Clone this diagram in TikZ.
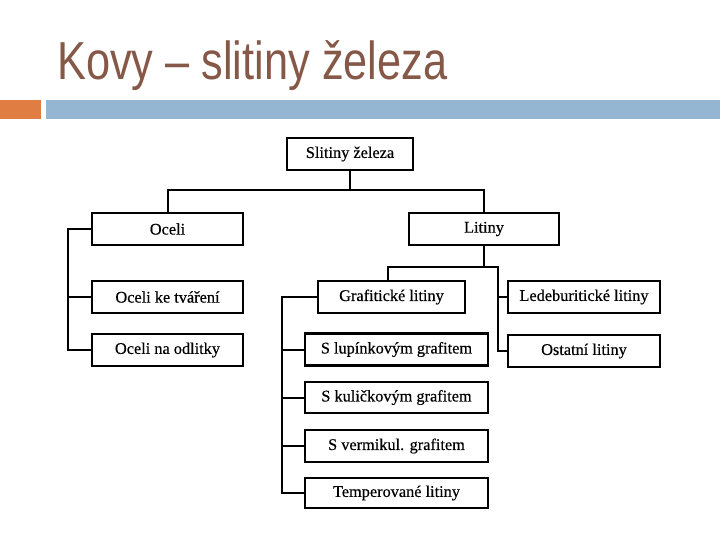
\documentclass[tikz,border=0pt]{standalone}
\usepackage{fontspec}
\setmainfont{Liberation Serif}
\newfontfamily\boxfont{Liberation Serif}[FakeBold=0.4]
\newfontfamily\titlefont{Liberation Sans}
\usepackage{xcolor}
\usetikzlibrary{calc,positioning}

\definecolor{titlebrown}{RGB}{133,88,72}
\definecolor{barorange}{RGB}{224,125,66}
\definecolor{barblue}{RGB}{148,182,210}

\tikzset{
	box/.style={draw, line width=2.1pt, inner sep=0pt, minimum height=32pt, font=\boxfont\fontsize{16.3}{18}\selectfont},
	link/.style={line width=2pt}
}

\begin{document}
\begin{tikzpicture}[x=1pt, y=-1pt]
		\useasboundingbox (0,0) rectangle (720,540);
		\node[anchor=base west, inner sep=0pt, xscale=0.81, text=titlebrown, font=\titlefont\fontsize{53.5}{60}\selectfont] (title) at (57,80) {Kovy – slitiny železa};
		\fill[barorange] (0,100) rectangle (41,119);
		\fill[barblue] (46,100) rectangle (720,119);
		\node[box, minimum width=126pt] (slit) at (350,154) {Slitiny železa};
		\node[box, minimum width=151pt] (oceli) at (167.5,229) {Oceli};
		\node[box, minimum width=151pt] (tvareni) at (167.5,297) {Oceli ke tváření};
		\node[box, minimum width=151pt] (odlitky) at (167.5,350) {Oceli na odlitky};
		\node[box, minimum width=150pt] (litiny) at (484,229) {Litiny};
		\node[box, minimum width=147pt] (grafit) at (391.5,297) {Grafitické litiny};
		\node[box, minimum width=152pt] (ledeb) at (584,297) {Ledeburitické litiny};
		\node[box, minimum width=152pt] (ostatni) at (584,351) {Ostatní litiny};
		\node[box, minimum width=183pt] (lupink) at (396.5,349.5) {S lupínkovým grafitem};
		\node[box, minimum width=183pt, minimum height=31pt] (kulick) at (396.5,397.5) {S kuličkovým grafitem};
		\node[box, minimum width=183pt] (vermik) at (396.5,446) {S vermikul. grafitem};
		\node[box, minimum width=183pt, minimum height=30pt] (temper) at (396.5,493) {Temperované litiny};
		\coordinate (j1) at (350,190);
		\coordinate (j2) at (484,267);
		\coordinate (g) at (388,267);
		\coordinate (bus1) at (68,0);
		\coordinate (bus2) at (498,267);
		\coordinate (bus3) at (282,0);
		\draw[link] (slit.south) -- (j1);
		\draw[link] (oceli.north) |- (j1) -| (litiny.north);
		\draw[link] (oceli.west) -- (oceli.west -| bus1) -- (odlitky.west -| bus1) -- (odlitky.west);
		\draw[link] (tvareni.west) -- (tvareni.west -| bus1);
		\draw[link] (litiny.south) -- (j2);
		\draw[link] (g |- grafit.north) -- (g) -- (bus2) -- (bus2 |- ostatni.west) -- (ostatni.west);
		\draw[link] (bus2 |- ledeb.west) -- (ledeb.west);
		\draw[link] (grafit.west) -- (grafit.west -| bus3) -- (temper.west -| bus3) -- (temper.west);
		\draw[link] (lupink.west) -- (lupink.west -| bus3);
		\draw[link] (kulick.west) -- (kulick.west -| bus3);
		\draw[link] (vermik.west) -- (vermik.west -| bus3);
	\end{tikzpicture}
\end{document}
